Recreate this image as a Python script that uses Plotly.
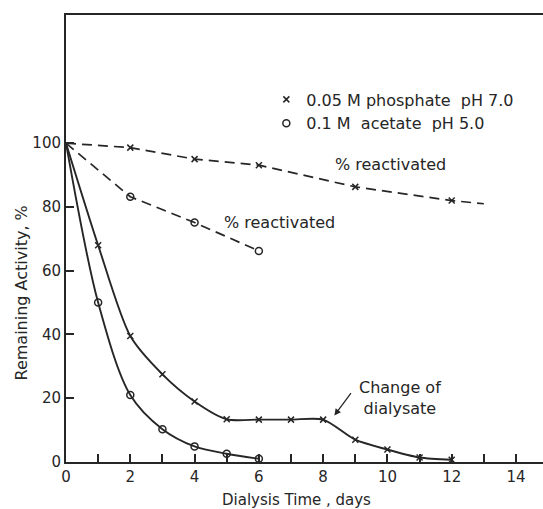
import plotly.graph_objects as go

# ---- data ----
phos_days = [0, 1, 2, 3, 4, 5, 6, 7, 8, 9, 10, 11, 12]
phos_activity = [100, 68, 39.5, 27.5, 19, 13.4, 13.3, 13.3, 13.3, 7, 3.9, 1.4, 0.7]

acet_days = [0, 1, 2, 3, 4, 5, 6]
acet_activity = [100, 50, 21, 10.3, 4.9, 2.6, 1]

phos_react_days = [2, 4, 6, 9, 12]
phos_react = [98.6, 95, 93.1, 86.3, 82]
phos_react_line_days = [0, 2, 4, 6, 9, 12, 13]
phos_react_line = [100, 98.6, 95, 93.1, 86.3, 82, 81]

acet_react_days = [2, 4, 6]
acet_react = [83.2, 75.1, 66.2]
acet_react_line_days = [0, 2, 4, 6]
acet_react_line = [100, 83.2, 75.1, 66.2]

x_ticks = list(range(0, 15))
x_ticktext = [str(v) if v % 2 == 0 else "" for v in x_ticks]
y_ticks = [0, 20, 40, 60, 80, 100]

INK = "#262626"
FONT = "DejaVu Sans"

fig = go.Figure()

# dashed "% reactivated" lines
fig.add_trace(go.Scatter(x=phos_react_line_days, y=phos_react_line, mode="lines",
                         line=dict(color=INK, width=1.7, dash="10px,6px"), showlegend=False))
fig.add_trace(go.Scatter(x=acet_react_line_days, y=acet_react_line, mode="lines",
                         line=dict(color=INK, width=1.7, dash="10px,6px"), showlegend=False))
# solid activity curves
fig.add_trace(go.Scatter(x=phos_days, y=phos_activity, mode="lines", line_shape="spline",
                         line=dict(color=INK, width=1.9, smoothing=0.75), showlegend=False))
fig.add_trace(go.Scatter(x=acet_days, y=acet_activity, mode="lines", line_shape="spline",
                         line=dict(color=INK, width=1.9, smoothing=0.9), showlegend=False))

xm = dict(symbol="x-thin", size=6, line=dict(color=INK, width=1.5), color=INK)
om = dict(symbol="circle-open", size=7, line=dict(color=INK, width=1.5), color=INK)

fig.add_trace(go.Scatter(x=phos_days[1:], y=phos_activity[1:], mode="markers", marker=xm,
                         name="0.05 M phosphate  pH 7.0"))
fig.add_trace(go.Scatter(x=acet_days[1:], y=acet_activity[1:], mode="markers", marker=om,
                         name="0.1 M  acetate  pH 5.0"))
fig.add_trace(go.Scatter(x=phos_react_days, y=phos_react, mode="markers", marker=xm, showlegend=False))
fig.add_trace(go.Scatter(x=acet_react_days, y=acet_react, mode="markers", marker=om, showlegend=False))

annos = [
    dict(x=8.31, y=93.4, text="% reactivated", xanchor="left", yanchor="middle", showarrow=False),
    dict(x=4.85, y=75.2, text="% reactivated", xanchor="left", yanchor="middle", showarrow=False),
    dict(x=10.39, y=20, text="Change of<br>dialysate", xanchor="center", yanchor="middle",
         showarrow=False, align="center"),
    dict(x=8.35, y=14.6, ax=8.9, ay=22.1, axref="x", ayref="y", text="", showarrow=True,
         arrowhead=2, arrowsize=1, arrowwidth=1.3, arrowcolor=INK),
    dict(x=-0.094, y=52.9, xref="paper", yref="y", text="Remaining Activity, %", textangle=-90,
         showarrow=False, xanchor="center", yanchor="middle"),
    dict(x=0.484, y=-0.0857, xref="paper", yref="paper", text="Dialysis Time , days",
         showarrow=False, xanchor="center", yanchor="middle", font=dict(family=FONT, size=15, color=INK)),
]
for a in annos:
    a.setdefault("font", dict(family=FONT, size=16, color=INK))
    fig.add_annotation(**a)

fig.update_layout(
    width=543, height=509,
    margin=dict(l=66, r=0, t=15, b=47.3, autoexpand=False),
    paper_bgcolor="white", plot_bgcolor="white",
    font=dict(family=FONT, size=15, color=INK),
    legend=dict(x=0.42, y=0.849, xanchor="left", yanchor="top", bgcolor="rgba(0,0,0,0)",
                font=dict(family=FONT, size=16, color=INK), tracegroupgap=0, itemwidth=30),
    xaxis=dict(range=[0, 14.84], tickvals=x_ticks, ticktext=x_ticktext, ticks="inside",
               ticklen=8, tickwidth=1.5, tickcolor=INK, showline=True, linewidth=2, linecolor=INK,
               mirror=True, showgrid=False, zeroline=False, automargin=False),
    yaxis=dict(range=[0, 140.2], tickvals=y_ticks, ticks="inside", ticklen=8, tickwidth=1.5,
               tickcolor=INK, showline=True, linewidth=2, linecolor=INK, mirror=False,
               showgrid=False, zeroline=False, automargin=False),
)

fig.write_html("out.html", config={"displayModeBar": False},
               post_script="document.body.style.margin='0';")
